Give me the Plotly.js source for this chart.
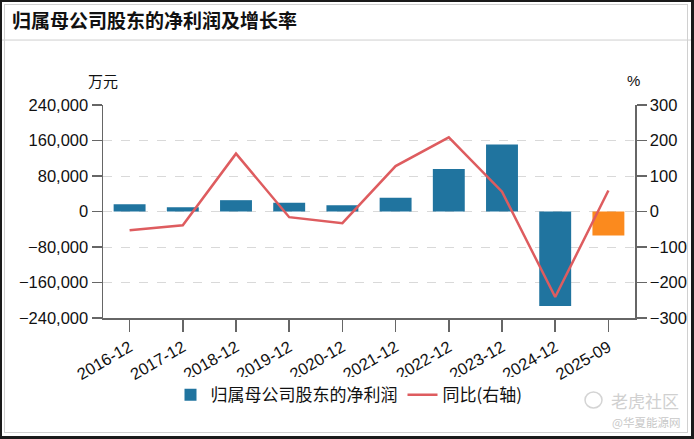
<!DOCTYPE html>
<html>
<head>
<meta charset="utf-8">
<script src="https://cdn.plot.ly/plotly-3.0.1.min.js"></script>
<style>
html,body{margin:0;padding:0;background:#fff;}
#wrap{position:relative;width:694px;height:439px;overflow:hidden;}
#chart{position:absolute;left:0;top:0;width:694px;height:439px;}
#frame{position:absolute;left:0;top:0;width:694px;height:439px;box-sizing:border-box;border-style:solid;border-color:#1a1a1a;border-width:2px 3px 3px 2px;pointer-events:none;}
#inner{position:absolute;left:2px;top:2px;right:3px;bottom:3px;border:1px solid #d0d0d0;pointer-events:none;}
</style>
</head>
<body>
<div id="wrap">
<div id="chart"></div>
<div id="frame"><div id="inner"></div></div>
</div>
<script>
var categories = ["2016-12","2017-12","2018-12","2019-12","2020-12","2021-12","2022-12","2023-12","2024-12","2025-09"];
var netProfit = [16500, 9700, 25500, 20000, 14000, 31000, 96000, 151000, -213000, -54000];
var yoyGrowth = [-53, -39, 163, -16, -33, 128, 209, 56, -241, 59];
var barColors = ["#20749f","#20749f","#20749f","#20749f","#20749f","#20749f","#20749f","#20749f","#20749f","#fb8a1e"];
var leftTicks = [-240000,-160000,-80000,0,80000,160000,240000];
var rightTicks = [-300,-200,-100,0,100,200,300];

var fontFam = '"Liberation Sans", Arial, "Noto Sans CJK SC", sans-serif';
var cjkFam = '"Noto Sans CJK SC", "Liberation Sans", sans-serif';

var traces = [
  {
    type: 'bar',
    name: '归属母公司股东的净利润',
    x: categories,
    y: netProfit,
    marker: {color: barColors},
    yaxis: 'y',
    hoverinfo: 'x+y'
  },
  {
    type: 'scatter',
    mode: 'lines',
    name: '同比(右轴)',
    x: categories,
    y: yoyGrowth,
    line: {color: '#de5c5f', width: 2.5},
    yaxis: 'y2'
  }
];

var axisColor = '#666666';
var tickFont = {family: fontFam, size: 16.5, color: '#111111'};
var layout = {
  width: 694,
  height: 439,
  margin: {l: 103, r: 59, t: 105, b: 121, autoexpand: false},
  paper_bgcolor: '#ffffff',
  plot_bgcolor: '#ffffff',
  font: {family: fontFam, size: 16, color: '#111111'},
  title: {
    text: '<b>归属母公司股东的净利润及增长率</b>',
    font: {family: cjkFam, size: 19, color: '#111111'},
    x: 12/694, xanchor: 'left', xref: 'container',
    y: 1 - 21.5/439, yanchor: 'middle', yref: 'container'
  },
  bargap: 0.4,
  showlegend: true,
  legend: {
    orientation: 'h',
    x: (349-103)/532, xanchor: 'center',
    y: -0.362, yanchor: 'middle',
    font: {family: cjkFam, size: 17, color: '#111111'},
    itemwidth: 30
  },
  xaxis: {
    type: 'category',
    showline: true, linecolor: axisColor, linewidth: 1.5,
    ticks: 'outside', ticklen: 12, tickcolor: axisColor, tickwidth: 1.5,
    tickangle: -30,
    tickfont: tickFont,
    showgrid: false,
    zeroline: false
  },
  yaxis: {
    range: [-240000, 240000],
    tickvals: leftTicks,
    tickformat: ',d',
    showline: true, linecolor: axisColor, linewidth: 1.5,
    ticks: 'outside', ticklen: 10, tickcolor: axisColor, tickwidth: 1.5,
    tickfont: tickFont,
    showgrid: true, gridcolor: '#d9d9d9', griddash: 'dash', gridwidth: 1,
    zeroline: false
  },
  yaxis2: {
    range: [-300, 300],
    tickvals: rightTicks,
    overlaying: 'y',
    side: 'right',
    showline: true, linecolor: axisColor, linewidth: 1.5,
    ticks: 'outside', ticklen: 10, tickcolor: axisColor, tickwidth: 1.5,
    tickfont: tickFont,
    showgrid: false,
    zeroline: false
  },
  shapes: [
    {type: 'line', xref: 'paper', yref: 'paper', x0: -0.2, x1: 1.12, y0: 1.305, y1: 1.305,
     line: {color: '#cfcfcf', width: 1}},
    {type: 'circle', xref: 'paper', yref: 'paper', x0: (585-103)/532, x1: (602-103)/532,
     y0: (318-408)/213, y1: (318-392)/213, line: {color: '#d4d4d4', width: 1.5}}
  ],
  annotations: [
    {text: '万元', xref: 'paper', yref: 'paper', x: 0.0, y: (318-80)/213, xanchor: 'center', yanchor: 'middle',
     showarrow: false, font: {family: cjkFam, size: 15, color: '#111111'}},
    {text: '%', xref: 'paper', yref: 'paper', x: (633-103)/532, y: (318-80)/213, xanchor: 'center', yanchor: 'middle',
     showarrow: false, font: {family: fontFam, size: 15, color: '#111111'}},
    {text: '老虎社区', xref: 'paper', yref: 'paper', x: (681-103)/532, y: (318-400)/213, xanchor: 'right', yanchor: 'middle',
     showarrow: false, font: {family: cjkFam, size: 17, color: '#d0d0d0'}},
    {text: '@华夏能源网', xref: 'paper', yref: 'paper', x: (682-103)/532, y: (318-422)/213, xanchor: 'right', yanchor: 'middle',
     showarrow: false, font: {family: cjkFam, size: 11.5, color: '#c8c8c8'}}
  ]
};

Plotly.newPlot('chart', traces, layout, {displayModeBar: false, staticPlot: true});
</script>
</body>
</html>
